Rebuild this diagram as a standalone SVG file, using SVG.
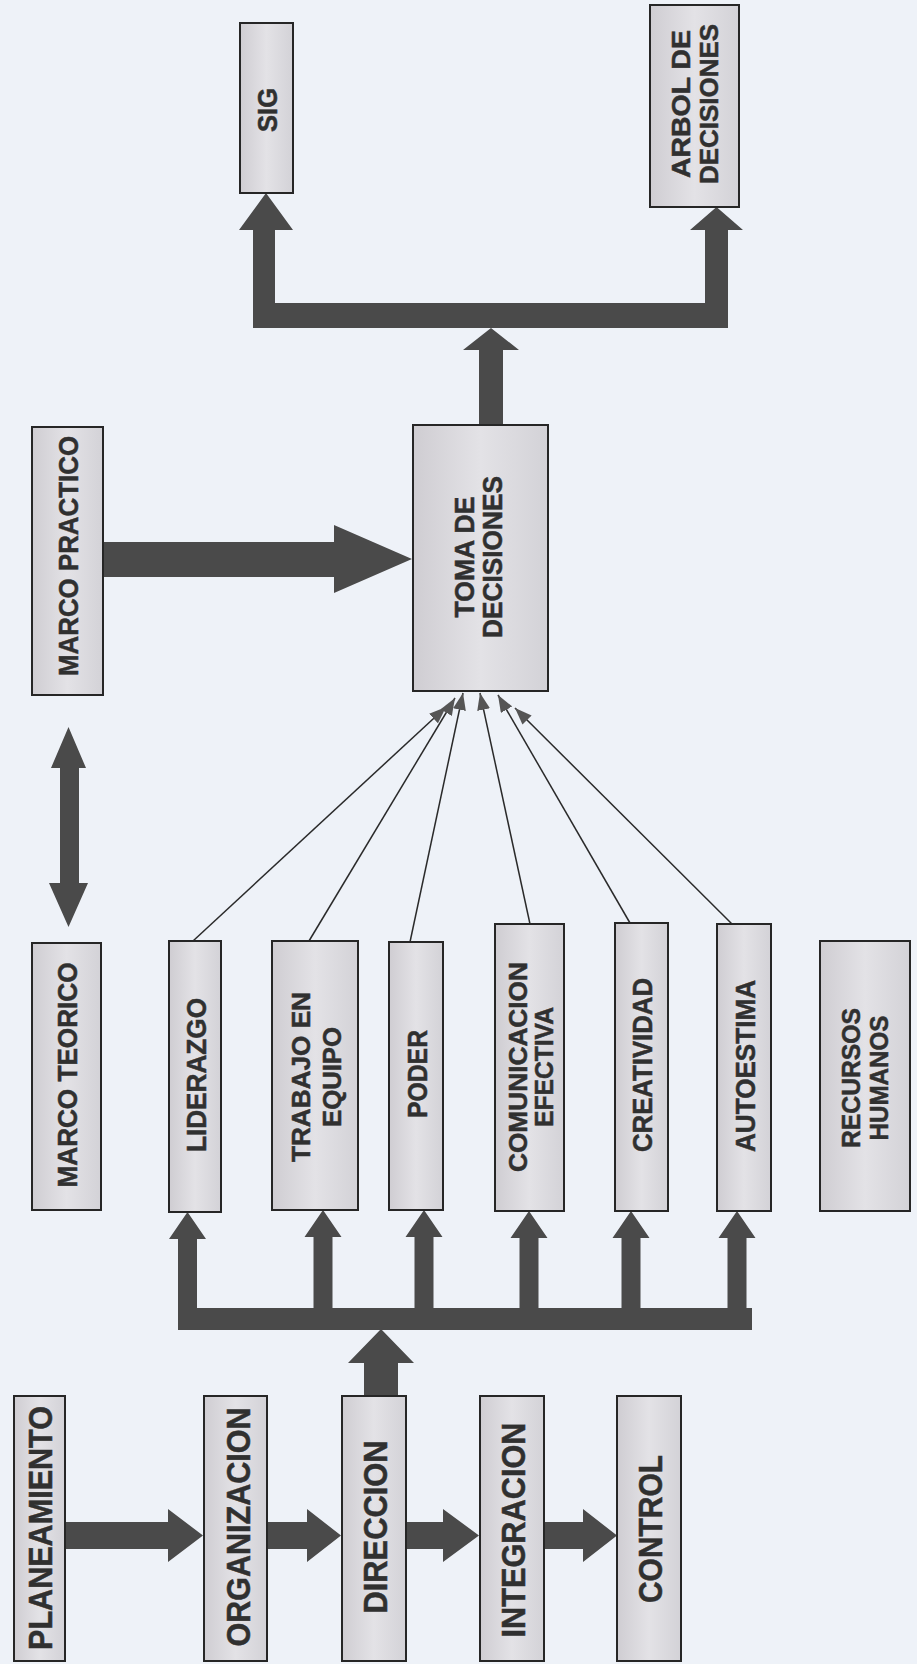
<svg xmlns="http://www.w3.org/2000/svg" width="917" height="1664" viewBox="0 0 917 1664">
<defs>
<linearGradient id="bf" x1="0" y1="0" x2="1" y2="0">
<stop offset="0" stop-color="#cfcdd2"/>
<stop offset="0.5" stop-color="#e3e2e6"/>
<stop offset="1" stop-color="#d3d2d7"/>
</linearGradient>
<marker id="ah" viewBox="0 0 17 13" refX="17" refY="6.5" markerWidth="17" markerHeight="13" markerUnits="userSpaceOnUse" orient="auto">
<path d="M0,0 L17,6.5 L0,13 z" fill="#555"/>
</marker>
</defs>
<style>
.box{fill:url(#bf);stroke:#262626;stroke-width:2}
.t{font-family:"Liberation Sans",Arial,sans-serif;font-weight:bold;fill:#303030;stroke:#303030;stroke-width:0.5;text-anchor:middle}
.b{font-size:33px}
.m{font-size:28px}
.s{font-size:26px}
.big{fill:#4a4a4a}
.thin{stroke:#2a2a2a;stroke-width:1.5;fill:none;marker-end:url(#ah)}
</style>
<rect width="917" height="1664" fill="#eef2f8"/>

<g id="connectors">
<polygon class="big" points="65,1522 168,1522 168,1509 203,1535.5 168,1562 168,1549 65,1549"/>
<polygon class="big" points="267,1522 307,1522 307,1509 341,1535.5 307,1562 307,1549 267,1549"/>
<polygon class="big" points="406,1522 443,1522 443,1509 479,1535.5 443,1562 443,1549 406,1549"/>
<polygon class="big" points="544,1522 583,1522 583,1509 617,1535.5 583,1562 583,1549 544,1549"/>
<polygon class="big" points="364,1397 364,1363 348,1363 381,1329 414,1363 398,1363 398,1397"/>
<rect class="big" x="178" y="1308" width="574" height="22"/>
<polygon class="big" points="178,1309 178,1239 169,1239 187.5,1212 206,1239 197,1239 197,1309"/>
<polygon class="big" points="313.5,1309 313.5,1237 304.5,1237 323,1210 341.5,1237 332.5,1237 332.5,1309"/>
<polygon class="big" points="414.5,1309 414.5,1237 405.5,1237 424,1210 442.5,1237 433.5,1237 433.5,1309"/>
<polygon class="big" points="519.5,1309 519.5,1238 510.5,1238 529,1211 547.5,1238 538.5,1238 538.5,1309"/>
<polygon class="big" points="621.5,1309 621.5,1238 612.5,1238 631,1211 649.5,1238 640.5,1238 640.5,1309"/>
<polygon class="big" points="727.5,1309 727.5,1238 718.5,1238 737,1211 755.5,1238 746.5,1238 746.5,1309"/>
<line class="thin" x1="193" y1="941" x2="446" y2="707"/>
<line class="thin" x1="309" y1="941" x2="455" y2="698"/>
<line class="thin" x1="410" y1="942" x2="463" y2="693"/>
<line class="thin" x1="530" y1="924" x2="480" y2="693"/>
<line class="thin" x1="630" y1="923" x2="498" y2="695"/>
<line class="thin" x1="732" y1="924" x2="515" y2="708"/>
<polygon class="big" points="60,768 51,768 68.5,727 86,768 79,768 79,883 88,883 68.5,927 49,883 60,883"/>
<polygon class="big" points="103,542 334,542 334,525 412,559 334,593 334,577 103,577"/>
<polygon class="big" points="479,426 479,350 463,350 491,328 519,350 503,350 503,426"/>
<rect class="big" x="253" y="303" width="475" height="25"/>
<polygon class="big" points="253,304 253,230 239,230 266,193 293,230 275,230 275,304"/>
<polygon class="big" points="705,304 705,230 690,230 716.5,207 743,230 728,230 728,304"/>
</g>

<g id="planeamiento"><rect class="box" x="14" y="1396" width="51" height="265"/>
<text class="t b" transform="translate(40,1528) rotate(-90)" x="0" y="11.8" textLength="244" lengthAdjust="spacingAndGlyphs">PLANEAMIENTO</text></g>
<g id="organizacion"><rect class="box" x="204" y="1396" width="63" height="265"/>
<text class="t b" transform="translate(238,1527) rotate(-90)" x="0" y="11.8" textLength="239" lengthAdjust="spacingAndGlyphs">ORGANIZACION</text></g>
<g id="direccion"><rect class="box" x="342" y="1396" width="64" height="265"/>
<text class="t b" transform="translate(375,1527) rotate(-90)" x="0" y="11.8" textLength="173" lengthAdjust="spacingAndGlyphs">DIRECCION</text></g>
<g id="integracion"><rect class="box" x="480" y="1396" width="64" height="265"/>
<text class="t b" transform="translate(513,1530) rotate(-90)" x="0" y="11.8" textLength="215" lengthAdjust="spacingAndGlyphs">INTEGRACION</text></g>
<g id="control"><rect class="box" x="617" y="1396" width="64" height="265"/>
<text class="t b" transform="translate(650,1529) rotate(-90)" x="0" y="11.8" textLength="148" lengthAdjust="spacingAndGlyphs">CONTROL</text></g>

<g id="marco-teorico"><rect class="box" x="32" y="943" width="69" height="267"/>
<text class="t m" transform="translate(67,1075) rotate(-90)" x="0" y="10" textLength="225" lengthAdjust="spacingAndGlyphs">MARCO TEORICO</text></g>
<g id="liderazgo"><rect class="box" x="169" y="941" width="52" height="271"/>
<text class="t m" transform="translate(196,1075) rotate(-90)" x="0" y="10" textLength="154" lengthAdjust="spacingAndGlyphs">LIDERAZGO</text></g>
<g id="trabajo-en-equipo"><rect class="box" x="272" y="941" width="86" height="269"/>
<text class="t s" transform="translate(316,1077) rotate(-90)" x="0" y="-6.2" textLength="170" lengthAdjust="spacingAndGlyphs">TRABAJO EN</text>
<text class="t s" transform="translate(316,1077) rotate(-90)" x="0" y="24.8" textLength="100" lengthAdjust="spacingAndGlyphs">EQUIPO</text></g>
<g id="poder"><rect class="box" x="389" y="942" width="54" height="268"/>
<text class="t m" transform="translate(417,1074) rotate(-90)" x="0" y="10" textLength="88" lengthAdjust="spacingAndGlyphs">PODER</text></g>
<g id="comunicacion-efectiva"><rect class="box" x="495" y="924" width="69" height="287"/>
<text class="t s" transform="translate(530.5,1067) rotate(-90)" x="0" y="-3.7" textLength="210" lengthAdjust="spacingAndGlyphs">COMUNICACION</text>
<text class="t s" transform="translate(530.5,1067) rotate(-90)" x="0" y="22.3" textLength="120" lengthAdjust="spacingAndGlyphs">EFECTIVA</text></g>
<g id="creatividad"><rect class="box" x="615" y="923" width="53" height="288"/>
<text class="t m" transform="translate(642,1065) rotate(-90)" x="0" y="10" textLength="174" lengthAdjust="spacingAndGlyphs">CREATIVIDAD</text></g>
<g id="autoestima"><rect class="box" x="717" y="924" width="54" height="287"/>
<text class="t m" transform="translate(745,1066) rotate(-90)" x="0" y="10" textLength="172" lengthAdjust="spacingAndGlyphs">AUTOESTIMA</text></g>
<g id="recursos-humanos"><rect class="box" x="820" y="941" width="90" height="270"/>
<text class="t s" transform="translate(865,1078) rotate(-90)" x="0" y="-4.7" textLength="140" lengthAdjust="spacingAndGlyphs">RECURSOS</text>
<text class="t s" transform="translate(865,1078) rotate(-90)" x="0" y="23.3" textLength="125" lengthAdjust="spacingAndGlyphs">HUMANOS</text></g>

<g id="marco-practico"><rect class="box" x="32" y="427" width="71" height="268"/>
<text class="t m" transform="translate(68,556) rotate(-90)" x="0" y="10" textLength="240" lengthAdjust="spacingAndGlyphs">MARCO PRACTICO</text></g>
<g id="toma-de-decisiones"><rect class="box" x="413" y="425" width="135" height="266"/>
<text class="t m" transform="translate(478,557) rotate(-90)" x="0" y="-4" textLength="121" lengthAdjust="spacingAndGlyphs">TOMA DE</text>
<text class="t m" transform="translate(478,557) rotate(-90)" x="0" y="24" textLength="162" lengthAdjust="spacingAndGlyphs">DECISIONES</text></g>
<g id="sig"><rect class="box" x="240" y="23" width="53" height="170"/>
<text class="t m" transform="translate(267,110) rotate(-90)" x="0" y="10" textLength="44" lengthAdjust="spacingAndGlyphs">SIG</text></g>
<g id="arbol-de-decisiones"><rect class="box" x="650" y="5" width="89" height="202"/>
<text class="t s" transform="translate(694.5,104) rotate(-90)" x="0" y="-4.7" textLength="148" lengthAdjust="spacingAndGlyphs">ARBOL DE</text>
<text class="t s" transform="translate(694.5,104) rotate(-90)" x="0" y="23.3" textLength="160" lengthAdjust="spacingAndGlyphs">DECISIONES</text></g>
</svg>
